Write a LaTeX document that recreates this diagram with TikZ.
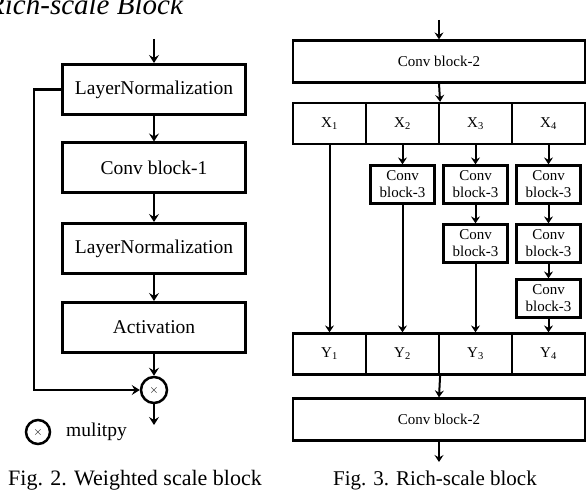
\documentclass[tikz,border=0pt]{standalone}
\usepackage{fontspec}
\setmainfont{Liberation Serif}
\usetikzlibrary{arrows.meta}
\begin{document}
\begin{tikzpicture}[x=1pt,y=-1pt,
  lbox/.style={draw, line width=3pt, minimum width=183pt, minimum height=50pt, inner sep=0pt, font=\fontsize{19.5}{22}\selectfont},
  rbox/.style={draw, line width=2.2pt, inner sep=0pt, font=\fontsize{15}{17}\selectfont},
  cell/.style={rbox, minimum width=73pt, minimum height=41pt},
  cb3/.style={rbox, minimum width=64pt, minimum height=38pt, align=center, font=\fontsize{15}{17}\selectfont},
  arr/.style={-{Stealth[length=8pt,width=10pt,inset=3pt]}, line width=2.2pt},
  rarr/.style={-{Stealth[length=7pt,width=9pt,inset=2.5pt]}, line width=2pt},
  mulc/.style={circle, draw, line width=2.5pt, minimum size=26pt, inner sep=0pt, font=\fontsize{13}{13}\selectfont}
]
\useasboundingbox (0,0) rectangle (586,494);

% title (cropped at the top, as in the source)
\node[anchor=base west, font=\itshape\fontsize{29}{30}\selectfont, inner sep=0pt] (title) at (-13,15) {Rich-scale Block};

% ---- left figure ----
\coordinate (in1) at (154,39);
\node[lbox] (ln1) at (154,89.5) {LayerNormalization};
\node[lbox] (cb1) at (154,168) {Conv block-1};
\node[lbox] (ln2) at (154,248.5) {LayerNormalization};
\node[lbox] (act) at (154,327.5) {Activation};
\node[mulc] (mul) at (154,390) {$\times$};
\coordinate (out1) at (154,425);

\draw[arr] (in1) -- (ln1);
\draw[arr] (ln1) -- (cb1);
\draw[arr] (cb1) -- (ln2);
\draw[arr] (ln2) -- (act);
\draw[arr] (act) -- (mul);
\draw[arr] (mul) -- (out1);
\draw[arr] (ln1.west) -- ++(-27,0) |- (mul.west);

\node[mulc, minimum size=24pt] (leg) at (38,432) {$\times$};
\node[anchor=base west, font=\fontsize{19.5}{22}\selectfont, inner sep=0pt] (legt) at (66,436) {mulitpy};

\node[anchor=base, font=\fontsize{22}{24}\selectfont, inner sep=0pt] (cap2) at (135,485) {Fig. 2. Weighted scale block};

% ---- right figure ----
\coordinate (in2) at (439,20);
\node[rbox, minimum width=292pt, minimum height=42pt] (c2a) at (439,61.5) {Conv block-2};

\node[cell] (x1) at (329.5,123.5) {X\textsubscript{1}};
\node[cell] (x2) at (402.5,123.5) {X\textsubscript{2}};
\node[cell] (x3) at (475.5,123.5) {X\textsubscript{3}};
\node[cell] (x4) at (548.5,123.5) {X\textsubscript{4}};

\node[cb3] (b21) at (402.5,184.5) {Conv\\block-3};
\node[cb3] (b31) at (475.5,184.5) {Conv\\block-3};
\node[cb3] (b41) at (548.5,184.5) {Conv\\block-3};
\node[cb3] (b32) at (475.5,243.5) {Conv\\block-3};
\node[cb3] (b42) at (548.5,243.5) {Conv\\block-3};
\node[cb3] (b43) at (548.5,298.5) {Conv\\block-3};

\node[cell] (y1) at (329.5,354) {Y\textsubscript{1}};
\node[cell] (y2) at (402.5,354) {Y\textsubscript{2}};
\node[cell] (y3) at (475.5,354) {Y\textsubscript{3}};
\node[cell] (y4) at (548.5,354) {Y\textsubscript{4}};

\node[rbox, minimum width=292pt, minimum height=42pt] (c2b) at (439,419.5) {Conv block-2};
\coordinate (out2) at (439,462);

\draw[rarr] (in2) -- (c2a);
\draw[rarr] (c2a.south) -- (x2.north east);
\draw[rarr] (x2) -- (b21);
\draw[rarr] (x3) -- (b31);
\draw[rarr] (x4) -- (b41);
\draw[rarr] (b31) -- (b32);
\draw[rarr] (b41) -- (b42);
\draw[rarr] (b42) -- (b43);
\draw[rarr] (x1) -- (y1);
\draw[rarr] (b21) -- (y2);
\draw[rarr] (b32) -- (y3);
\draw[rarr] (b43) -- (y4);
\draw[rarr] (y2.south east) -- (c2b.north);
\draw[rarr] (c2b) -- (out2);

\node[anchor=base, font=\fontsize{21}{24}\selectfont, inner sep=0pt] (cap3) at (435,485) {Fig. 3. Rich-scale block};
\end{tikzpicture}
\end{document}
